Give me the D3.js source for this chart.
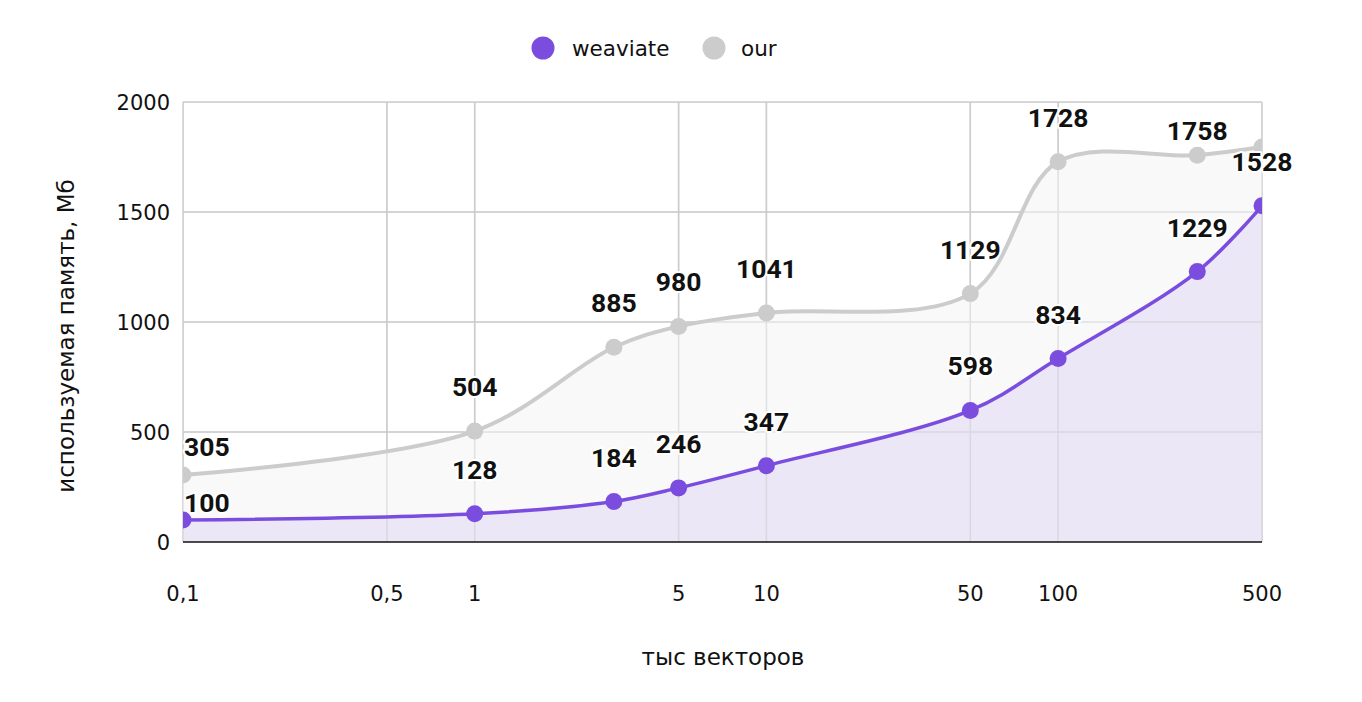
<!DOCTYPE html>
<html>
<head>
<meta charset="utf-8">
<script src="https://cdn.jsdelivr.net/npm/d3@7"></script>
<style>
  html, body { margin: 0; padding: 0; background: #fff; }
  svg { display: block; }
</style>
</head>
<body>
<svg id="chart" width="1362" height="702"></svg>
<script>
// ---- data ----
const xValues = [0.1, 1, 3, 5, 10, 50, 100, 300, 500];      // тыс векторов
const weaviateValues = [100, 128, 184, 246, 347, 598, 834, 1229, 1528];
const ourValues = [305, 504, 885, 980, 1041, 1129, 1728, 1758, 1795];
const xTickValues = [0.1, 0.5, 1, 5, 10, 50, 100, 500];
const xTickLabels = ["0,1", "0,5", "1", "5", "10", "50", "100", "500"];
const yTickValues = [0, 500, 1000, 1500, 2000];
const seriesNames = ["weaviate", "our"];

// ---- layout / style ----
const W = 1362, H = 702;
const plot = { left: 183, right: 1262, top: 102, bottom: 542 };
const colors = { weaviate: "#7a4ddf", our: "#cccccc" };
const fills = { weaviate: "#ebe7f7", our: "#f9f9f9" };
// baseline distance of the value label above its point (label placement tweaks)
const labelRise = {
  weaviate: [8, 35, 35, 35, 35, 35, 35, 35, 35],
  our: [19, 35, 35, 35, 35, 35, 35, 15, null]   // null: label not shown
};

const svg = d3.select("#chart");
const x = d3.scaleLog().domain([0.1, 500]).range([plot.left, plot.right]);
const y = d3.scaleLinear().domain([0, 2000]).range([plot.bottom, plot.top]);

svg.append("defs").append("clipPath").attr("id", "plotClip")
  .append("rect")
  .attr("x", plot.left).attr("y", plot.top)
  .attr("width", plot.right - plot.left).attr("height", plot.bottom - plot.top);

function drawGrid(g) {
  g.selectAll("line.h").data(yTickValues.filter(v => v > 0)).join("line")
    .attr("class", "h")
    .attr("x1", plot.left).attr("x2", plot.right)
    .attr("y1", d => y(d)).attr("y2", d => y(d))
    .attr("stroke", "#cccccc").attr("stroke-width", 1.5);
  g.selectAll("line.v").data(xTickValues).join("line")
    .attr("class", "v")
    .attr("x1", d => x(d)).attr("x2", d => x(d))
    .attr("y1", plot.top).attr("y2", plot.bottom)
    .attr("stroke", "#cccccc").attr("stroke-width", 1.5);
}

// ---- grid ----
drawGrid(svg.append("g"));

// ---- series ----
const series = [
  { key: "our", values: ourValues },
  { key: "weaviate", values: weaviateValues }
];
const curve = d3.curveCatmullRom.alpha(0.5);
const gClip = svg.append("g").attr("clip-path", "url(#plotClip)");

series.forEach(s => {
  const pts = xValues.map((xv, i) => [xv, s.values[i]]);
  const area = d3.area().curve(curve)
    .x(d => x(d[0])).y0(y(0)).y1(d => y(d[1]));
  gClip.append("path").datum(pts).attr("d", area).attr("fill", fills[s.key]);
});
drawGrid(gClip.append("g").attr("opacity", 0.55));

series.forEach(s => {
  const pts = xValues.map((xv, i) => [xv, s.values[i]]);
  const line = d3.line().curve(curve).x(d => x(d[0])).y(d => y(d[1]));
  gClip.append("path").datum(pts).attr("d", line)
    .attr("fill", "none").attr("stroke", colors[s.key])
    .attr("stroke-width", s.key === "our" ? 4 : 3.5);
  gClip.selectAll(null).data(pts).join("circle")
    .attr("cx", d => x(d[0])).attr("cy", d => y(d[1])).attr("r", 8.5)
    .attr("fill", colors[s.key]);
});

// ---- axis line ----
svg.append("line")
  .attr("x1", plot.left).attr("x2", plot.right)
  .attr("y1", y(0)).attr("y2", y(0))
  .attr("stroke", "#111").attr("stroke-width", 1.5);

// ---- tick labels ----
const tickFont = "'DejaVu Sans', Verdana, sans-serif";
svg.append("g").selectAll("text").data(yTickValues).join("text")
  .attr("x", 170).attr("y", d => y(d) + 8)
  .attr("text-anchor", "end")
  .attr("font-family", tickFont).attr("font-size", 21).attr("fill", "#111")
  .text(d => d);
svg.append("g").selectAll("text").data(xTickValues).join("text")
  .attr("x", d => x(d)).attr("y", 601)
  .attr("text-anchor", "middle")
  .attr("font-family", tickFont).attr("font-size", 21).attr("fill", "#111")
  .text((d, i) => xTickLabels[i]);

// ---- axis titles ----
svg.append("text")
  .attr("transform", "translate(74,336) rotate(-90)")
  .attr("text-anchor", "middle")
  .attr("font-family", tickFont).attr("font-size", 23).attr("fill", "#111")
  .text("используемая память, Мб");
svg.append("text")
  .attr("x", 723).attr("y", 665)
  .attr("text-anchor", "middle")
  .attr("font-family", tickFont).attr("font-size", 23).attr("fill", "#111")
  .text("тыс векторов");

// ---- value labels ----
const labelFont = "Roboto, 'Liberation Sans', sans-serif";
const gLabels = svg.append("g");
series.forEach(s => {
  xValues.forEach((xv, i) => {
    const rise = labelRise[s.key][i];
    if (rise === null) return;
    const px = x(xv), py = y(s.values[i]);
    const t = gLabels.append("text")
      .attr("x", px).attr("y", py - rise)
      .attr("text-anchor", "middle")
      .attr("font-family", labelFont).attr("font-weight", 700).attr("font-size", 26.5)
      .attr("fill", "#111")
      .attr("stroke", "#fff").attr("stroke-width", 4).attr("stroke-linejoin", "round")
      .attr("paint-order", "stroke")
      .text(s.values[i]);
    const w = t.node().getComputedTextLength();
    if (px - w / 2 < plot.left) {
      t.attr("text-anchor", "start").attr("x", plot.left + 1);
    }
  });
});

// ---- legend ----
const legend = svg.append("g");
const legendItems = [
  { name: seriesNames[0], cx: 543, tx: 572, color: colors.weaviate },
  { name: seriesNames[1], cx: 714, tx: 741, color: colors.our }
];
legendItems.forEach(it => {
  legend.append("circle").attr("cx", it.cx).attr("cy", 48).attr("r", 11.5).attr("fill", it.color);
  legend.append("text").attr("x", it.tx).attr("y", 56)
    .attr("font-family", tickFont).attr("font-size", 21.5).attr("fill", "#111")
    .text(it.name);
});
</script>
</body>
</html>
